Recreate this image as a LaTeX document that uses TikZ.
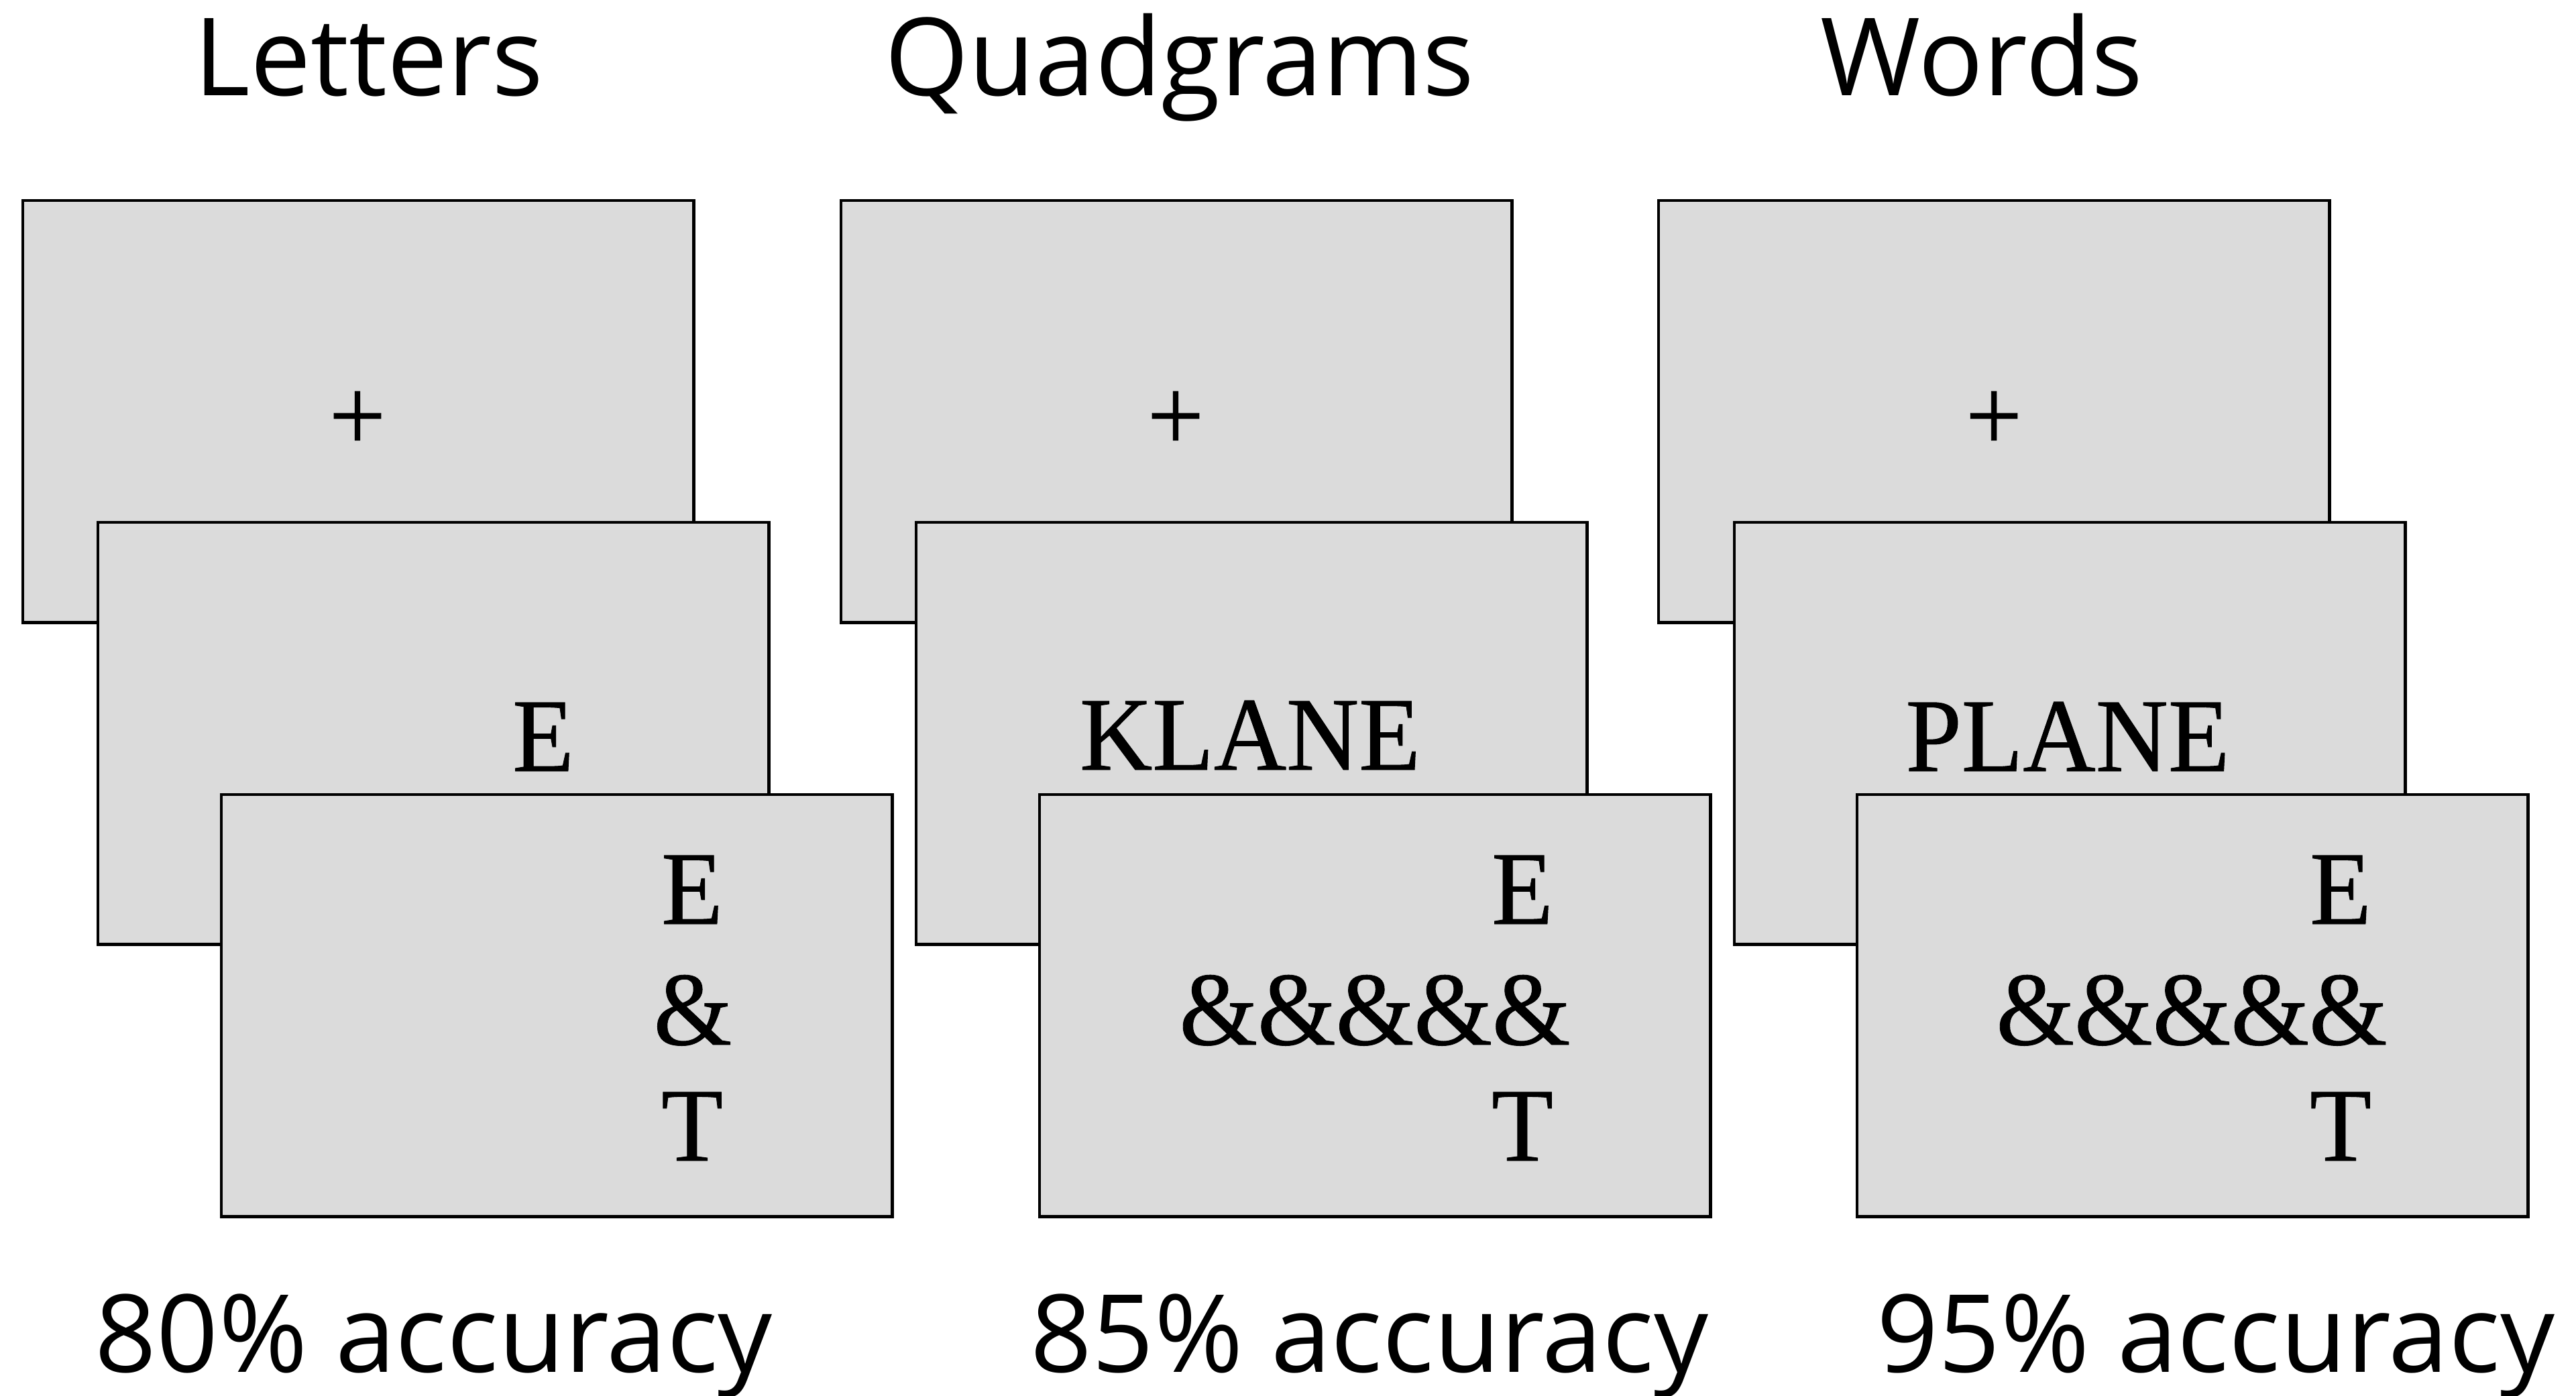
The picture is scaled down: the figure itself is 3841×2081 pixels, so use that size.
\documentclass[tikz,border=0pt]{standalone}
\usepackage{fontspec}
\setmainfont{Liberation Serif}[FakeStretch=0.96, FakeBold=0.6]
\newfontfamily\headfont{Open Sans}
\definecolor{screengray}{RGB}{219,219,219}
\begin{document}
\begin{tikzpicture}[x=0.01cm,y=-0.01cm,
  screen/.style={draw=black, line width=1.4pt, fill=screengray, anchor=north west,
                 minimum width=10cm, minimum height=6.29cm, inner sep=0pt, outer sep=0pt},
  stim/.style={anchor=base, inner sep=0pt, font=\fontsize{44.4pt}{44.4pt}\selectfont},
  headtext/.style={anchor=base, inner sep=0pt, font=\headfont\fontsize{45.8pt}{45.8pt}\selectfont}]
\useasboundingbox (0,0) rectangle (3841,2081);

% column headings
\node[headtext] (hLet) at (550,142) {Letters};
\node[headtext] (hQuad) at (1759,142) {Quadgrams};
\node[headtext] (hWord) at (2955,142) {Words};

% Letters condition
\node[screen] (fix1) at (34,299) {};
\node[stim] (plus1) at (533,672) {+};
\node[screen] (tgt1) at (146,779) {};
\node[stim] (tE1) at (810,1150) {E};
\node[screen] (resp1) at (330,1185) {};
\node[stim] (rE1) at (1032,1378) {E};
\node[stim] (rM1) at (1033,1558) {\&};
\node[stim] (rT1) at (1032,1731) {T};

% Quadgrams condition
\node[screen] (fix2) at (1254,299) {};
\node[stim] (plus2) at (1753,672) {+};
\node[screen] (tgt2) at (1366,779) {};
\node[stim] (tK2) at (1864,1148) {KLANE};
\node[screen] (resp2) at (1550,1185) {};
\node[stim] (rE2) at (2270,1378) {E};
\node[stim] (rM2) at (2050,1558) {\&\&\&\&\&};
\node[stim] (rT2) at (2270,1731) {T};

% Words condition
\node[screen] (fix3) at (2473,299) {};
\node[stim] (plus3) at (2973,672) {+};
\node[screen] (tgt3) at (2586,779) {};
\node[stim] (tP3) at (3083,1150) {PLANE};
\node[screen] (resp3) at (2769,1185) {};
\node[stim] (rE3) at (3490,1378) {E};
\node[stim] (rM3) at (3268,1558) {\&\&\&\&\&};
\node[stim] (rT3) at (3490,1731) {T};

% accuracy under each condition
\node[headtext] (acc1) at (647,2046) {80\% accuracy};
\node[headtext] (acc2) at (2042,2046) {85\% accuracy};
\node[headtext] (acc3) at (3304,2046) {95\% accuracy};
\end{tikzpicture}
\end{document}
